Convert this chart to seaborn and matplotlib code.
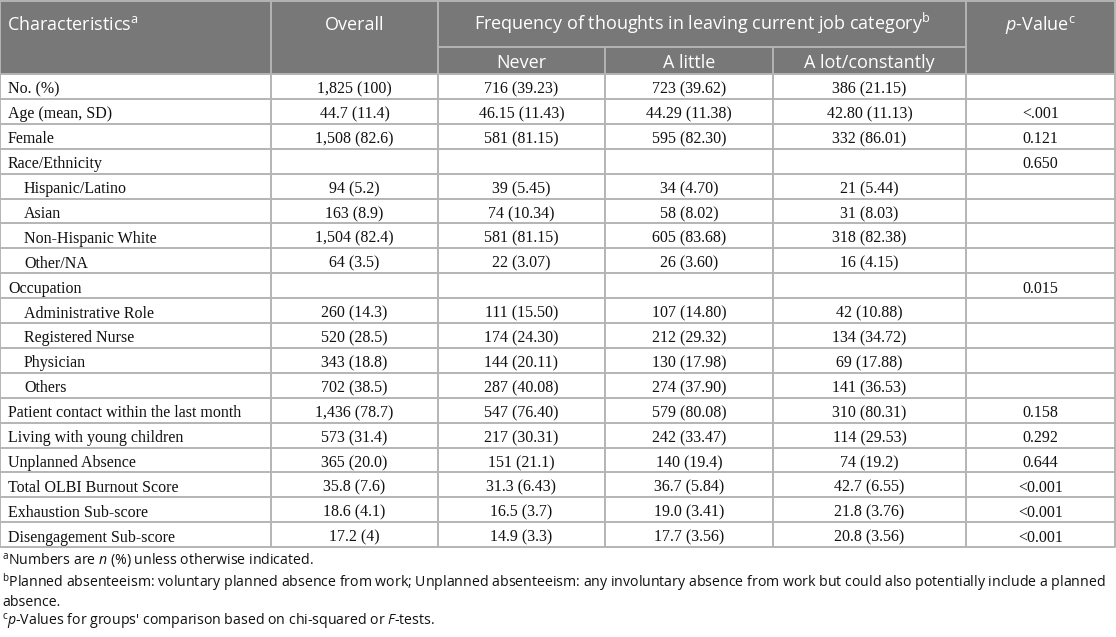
import matplotlib.pyplot as plt
import seaborn as sns
import pandas as pd
from matplotlib.patches import Rectangle

# table contents
characteristics = [
    "No. (%)", "Age (mean, SD)", "Female", "Race/Ethnicity",
    "Hispanic/Latino", "Asian", "Non-Hispanic White", "Other/NA",
    "Occupation", "Administrative Role", "Registered Nurse", "Physician",
    "Others", "Patient contact within the last month",
    "Living with young children", "Unplanned Absence",
    "Total OLBI Burnout Score", "Exhaustion Sub-score",
    "Disengagement Sub-score",
]
indented = [False, False, False, False, True, True, True, True,
            False, True, True, True, True, False, False, False,
            False, False, False]
overall = [
    "1,825 (100)", "44.7 (11.4)", "1,508 (82.6)", "",
    "94 (5.2)", "163 (8.9)", "1,504 (82.4)", "64 (3.5)",
    "", "260 (14.3)", "520 (28.5)", "343 (18.8)", "702 (38.5)",
    "1,436 (78.7)", "573 (31.4)", "365 (20.0)", "35.8 (7.6)",
    "18.6 (4.1)", "17.2 (4)",
]
never = [
    "716 (39.23)", "46.15 (11.43)", "581 (81.15)", "",
    "39 (5.45)", "74 (10.34)", "581 (81.15)", "22 (3.07)",
    "", "111 (15.50)", "174 (24.30)", "144 (20.11)", "287 (40.08)",
    "547 (76.40)", "217 (30.31)", "151 (21.1)", "31.3 (6.43)",
    "16.5 (3.7)", "14.9 (3.3)",
]
a_little = [
    "723 (39.62)", "44.29 (11.38)", "595 (82.30)", "",
    "34 (4.70)", "58 (8.02)", "605 (83.68)", "26 (3.60)",
    "", "107 (14.80)", "212 (29.32)", "130 (17.98)", "274 (37.90)",
    "579 (80.08)", "242 (33.47)", "140 (19.4)", "36.7 (5.84)",
    "19.0 (3.41)", "17.7 (3.56)",
]
a_lot = [
    "386 (21.15)", "42.80 (11.13)", "332 (86.01)", "",
    "21 (5.44)", "31 (8.03)", "318 (82.38)", "16 (4.15)",
    "", "42 (10.88)", "134 (34.72)", "69 (17.88)", "141 (36.53)",
    "310 (80.31)", "114 (29.53)", "74 (19.2)", "42.7 (6.55)",
    "21.8 (3.76)", "20.8 (3.56)",
]
p_values = [
    "", "<.001", "0.121", "0.650", "", "", "", "",
    "0.015", "", "", "", "", "0.158", "0.292", "0.644",
    "<0.001", "<0.001", "<0.001",
]

group_labels = ["Never", "A little", "A lot/constantly"]
footnotes = [
    r"$^{\mathrm{a}}$Numbers are $n$ (%) unless otherwise indicated.",
    r"$^{\mathrm{b}}$Planned absenteeism: voluntary planned absence from work; "
    r"Unplanned absenteeism: any involuntary absence from work but could also potentially include a planned",
    "absence.",
    r"$^{\mathrm{c}}$$p$-Values for groups' comparison based on chi-squared or $F$-tests.",
]

df = pd.DataFrame({
    "label": characteristics,
    "overall": overall,
    "never": never,
    "little": a_little,
    "lot": a_lot,
    "p": p_values,
})

sns.set_theme(style="white")
plt.rcParams["mathtext.fontset"] = "custom"
plt.rcParams["mathtext.rm"] = "Open Sans"
plt.rcParams["mathtext.it"] = "Open Sans:italic"

HEADER_BG = "#787878"
LINE = "#b4b4b4"
SANS = "Open Sans"
SERIF = "Liberation Serif"

col_edges = [0, 271, 438, 605, 773, 966, 1115]
header_h = 74
sub_y = 47
row_h = 24.9

fig = plt.figure(figsize=(11.16, 6.37), dpi=100)
ax = fig.add_axes([0, 0, 1, 1])
ax.set_xlim(0, 1116)
ax.set_ylim(637, 0)
ax.axis("off")

table_bottom = header_h + row_h * len(df)

# header block
ax.add_patch(Rectangle((0, 0), 1115, header_h, facecolor=HEADER_BG, edgecolor="none"))

hdr_kw = dict(color="white", family=SANS, fontsize=13, va="baseline")
ax.text(7, 30, r"Characteristics$^{\mathrm{a}}$", ha="left", **hdr_kw)
ax.text((col_edges[1] + col_edges[2]) / 2, 30, "Overall", ha="center", **hdr_kw)
ax.text((col_edges[2] + col_edges[5]) / 2, 30,
        r"Frequency of thoughts in leaving current job category$^{\mathrm{b}}$",
        ha="center", **hdr_kw)
ax.text((col_edges[5] + col_edges[6]) / 2, 30, r"$p$-Value$^{\mathrm{c}}$",
        ha="center", **hdr_kw)
for j, lab in enumerate(group_labels):
    cx = (col_edges[2 + j] + col_edges[3 + j]) / 2
    ax.text(cx, 67.5, lab, ha="center", **hdr_kw)

# grid lines
lw = 1.4
for x in [col_edges[0], col_edges[1], col_edges[2], col_edges[5], col_edges[6]]:
    ax.plot([x, x], [0, table_bottom], color=LINE, lw=lw, solid_capstyle="butt")
for x in [col_edges[3], col_edges[4]]:
    ax.plot([x, x], [sub_y, table_bottom], color=LINE, lw=lw, solid_capstyle="butt")
ax.plot([col_edges[2], col_edges[5]], [sub_y, sub_y], color=LINE, lw=lw)
ax.plot([0, 1115], [0.7, 0.7], color=LINE, lw=lw)
for i in range(len(df) + 1):
    y = header_h + row_h * i
    ax.plot([0, 1115], [y, y], color=LINE, lw=lw)

# body
body_kw = dict(family=SERIF, fontsize=11.5, color="#111111", va="center_baseline")
value_cols = ["overall", "never", "little", "lot", "p"]
for i, row in df.iterrows():
    cy = header_h + row_h * (i + 0.5) + 1
    x0 = 24 if indented[i] else 8
    ax.text(x0, cy, row["label"], ha="left", **body_kw)
    for j, c in enumerate(value_cols):
        cx = (col_edges[1 + j] + col_edges[2 + j]) / 2
        ax.text(cx, cy, row[c], ha="center", **body_kw)

# footnotes
foot_y = [566, 587, 606, 626]
for y, txt in zip(foot_y, footnotes):
    ax.text(2, y, txt, ha="left", va="baseline", family=SANS, fontsize=10.2,
            color="#111111")

fig.savefig("out.png", dpi=100)
